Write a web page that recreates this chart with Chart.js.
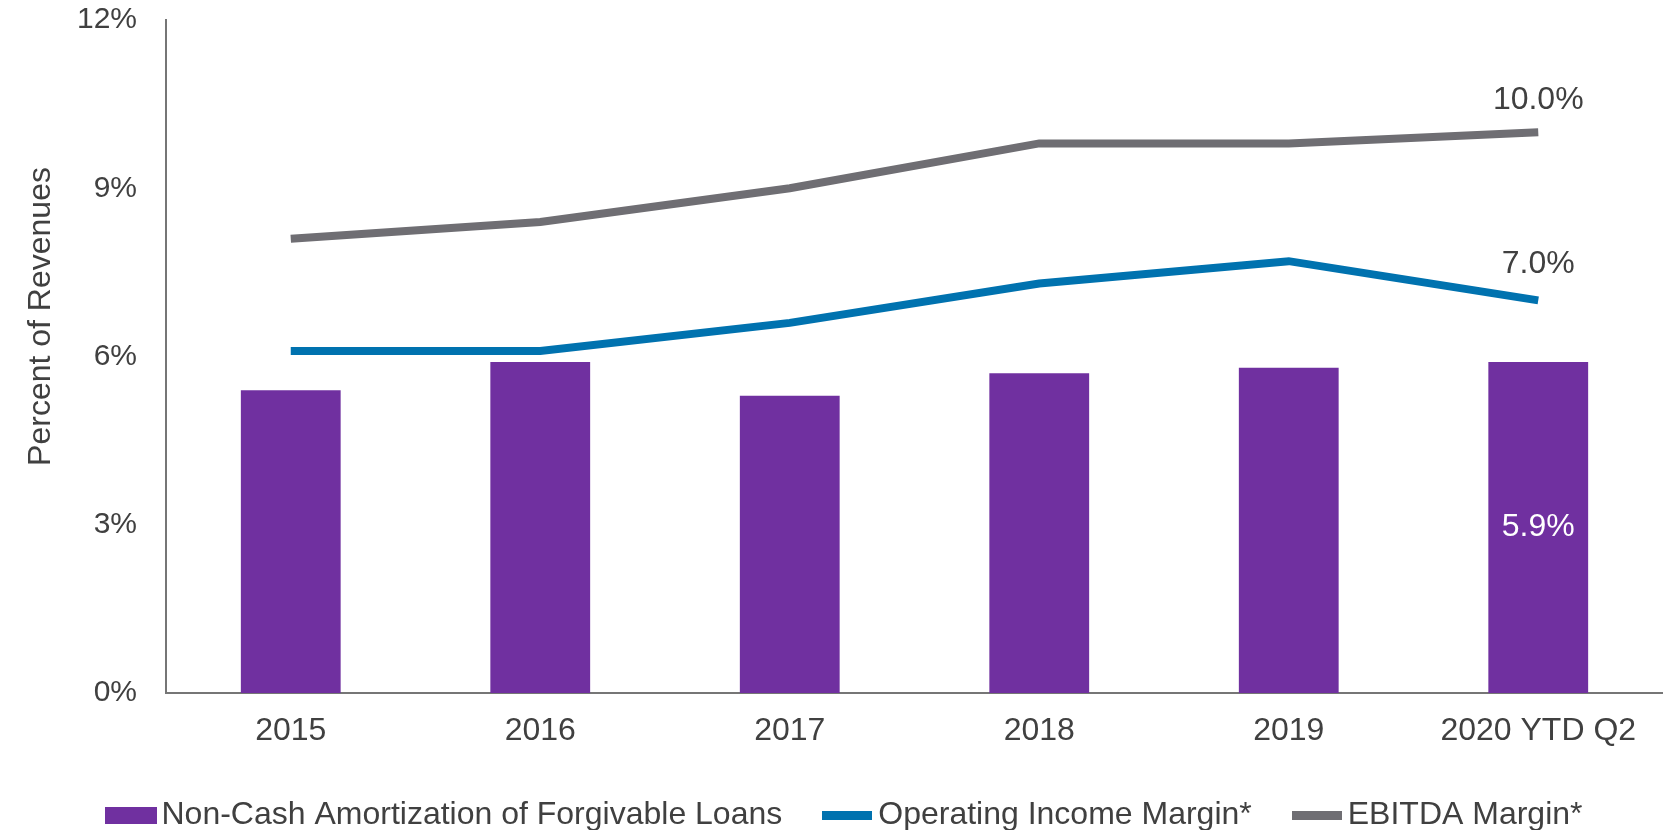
<!DOCTYPE html>
<html>
<head>
<meta charset="utf-8">
<script src="https://cdn.jsdelivr.net/npm/chart.js@4.4.1/dist/chart.umd.min.js"></script>
<style>
  html, body { margin: 0; padding: 0; background: #fff; }
  #wrap { width: 1663px; height: 830px; }
</style>
</head>
<body>
<div id="wrap"><canvas id="grafico"></canvas></div>
<script>
const ANIOS = ['2015', '2016', '2017', '2018', '2019', '2020 YTD Q2'];
const AMORTIZACION = [5.4, 5.9, 5.3, 5.7, 5.8, 5.9];
const MARGEN_OPERATIVO = [6.1, 6.1, 6.6, 7.3, 7.7, 7.0];
const MARGEN_EBITDA = [8.1, 8.4, 9.0, 9.8, 9.8, 10.0];
const TICKS_Y = [0, 3, 6, 9, 12];

const VIOLETA = '#7030A0';
const AZUL = '#0072AF';
const GRIS = '#6F6E73';
const TEXTO = '#404040';
const EJE = '#767676';
const FUENTE = 'Liberation Sans, Arial, sans-serif';

// muestras de la leyenda (rectángulo para barras, trazo grueso para líneas)
function muestra(color, w, h) {
  const c = document.createElement('canvas');
  c.width = w; c.height = h;
  const g = c.getContext('2d');
  g.fillStyle = color;
  g.fillRect(0, 0, w, h);
  return c;
}
const MUESTRAS = [muestra(VIOLETA, 52, 17), muestra(AZUL, 50, 9), muestra(GRIS, 50, 9)];

// etiquetas de valor sólo en el último período
const etiquetasFinales = {
  id: 'etiquetasFinales',
  afterDatasetsDraw(chart) {
    const ctx = chart.ctx;
    const ult = ANIOS.length - 1;
    ctx.save();
    ctx.font = `32px ${FUENTE}`;
    ctx.textAlign = 'center';
    ctx.textBaseline = 'middle';

    const barra = chart.getDatasetMeta(0).data[ult];
    ctx.fillStyle = '#ffffff';
    ctx.fillText(AMORTIZACION[ult].toFixed(1) + '%', barra.x, (barra.y + barra.base) / 2);

    ctx.fillStyle = TEXTO;
    const op = chart.getDatasetMeta(1).data[ult];
    ctx.fillText(MARGEN_OPERATIVO[ult].toFixed(1) + '%', op.x, op.y - 36);
    const eb = chart.getDatasetMeta(2).data[ult];
    ctx.fillText(MARGEN_EBITDA[ult].toFixed(1) + '%', eb.x, eb.y - 32);
    ctx.restore();
  }
};

new Chart(document.getElementById('grafico'), {
  type: 'bar',
  data: {
    labels: ANIOS,
    datasets: [
      {
        type: 'bar',
        label: 'Non-Cash Amortization of Forgivable Loans',
        data: AMORTIZACION,
        backgroundColor: VIOLETA,
        barPercentage: 1,
        categoryPercentage: 0.4,
        order: 3,
      },
      {
        type: 'line',
        label: 'Operating Income Margin*',
        data: MARGEN_OPERATIVO,
        borderColor: AZUL,
        backgroundColor: AZUL,
        borderWidth: 8,
        pointRadius: 0,
        tension: 0,
        order: 2,
      },
      {
        type: 'line',
        label: 'EBITDA Margin*',
        data: MARGEN_EBITDA,
        borderColor: GRIS,
        backgroundColor: GRIS,
        borderWidth: 8,
        pointRadius: 0,
        tension: 0,
        order: 1,
      },
    ],
  },
  options: {
    responsive: true,
    maintainAspectRatio: false,
    animation: false,
    layout: { padding: { top: 20, right: 0, bottom: -11, left: 35 } },
    scales: {
      x: {
        afterFit: s => { s.height = 56; },
        grid: { display: false, drawTicks: false },
        border: { display: true, color: EJE, width: 2 },
        ticks: { color: TEXTO, font: { family: FUENTE, size: 32 }, padding: 19, maxRotation: 0 },
      },
      y: {
        min: 0, max: 12,
        afterBuildTicks: s => { s.ticks = TICKS_Y.map(v => ({ value: v })); },
        afterFit: s => { s.width = 131; s.paddingTop = 0; s.paddingBottom = 0; },
        grid: { display: false, drawTicks: false },
        border: { display: true, color: EJE, width: 2 },
        ticks: { color: TEXTO, font: { family: FUENTE, size: 30 }, padding: 29, callback: v => v + '%' },
        title: {
          display: true,
          // el título del original queda algo por encima del centro del eje
          text: '         Percent of Revenues',
          color: TEXTO,
          font: { family: FUENTE, size: 32 },
          padding: { top: -13, bottom: 0 },
        },
      },
    },
    plugins: {
      tooltip: { enabled: false },
      legend: {
        position: 'bottom',
        labels: {
          usePointStyle: true,
          pointStyleWidth: 30,
          boxHeight: 17,
          padding: 50,
          color: TEXTO,
          font: { family: FUENTE, size: 32 },
          sort: (a, b) => a.datasetIndex - b.datasetIndex,
          generateLabels: chart => {
            const base = Chart.defaults.plugins.legend.labels.generateLabels(chart);
            return base.map(it => Object.assign(it, { pointStyle: MUESTRAS[it.datasetIndex] }));
          },
        },
      },
    },
  },
  plugins: [etiquetasFinales],
});
</script>
</body>
</html>
